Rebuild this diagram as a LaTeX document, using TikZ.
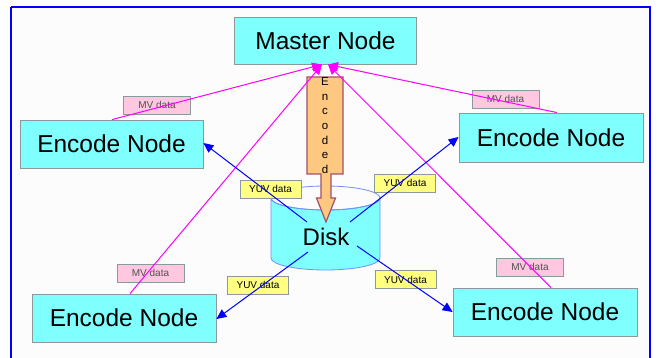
\documentclass[tikz,border=0pt]{standalone}
\usepackage{fontspec}
\setmainfont{Liberation Sans}
\usetikzlibrary{arrows.meta}
\definecolor{cyanfill}{HTML}{80FFFF}
\definecolor{boxline}{HTML}{8A9A9A}
\definecolor{orangefill}{HTML}{FFC880}
\definecolor{orangeline}{HTML}{A0506A}
\definecolor{yuvfill}{HTML}{FFFF80}
\definecolor{mvfill}{HTML}{FFC8E0}
\definecolor{mvtext}{HTML}{505050}
\definecolor{diskline}{HTML}{7090FF}
\begin{document}
\begin{tikzpicture}[x=1pt,y=-1pt,
  nodebox/.style={draw=boxline,fill=cyanfill,line width=0.8pt,inner sep=0pt,font=\fontsize{24.5}{26}\selectfont},
  yuvlabel/.style={draw=boxline,fill=yuvfill,line width=0.6pt,inner sep=0pt,minimum width=61pt,minimum height=18pt,font=\fontsize{10}{11}\selectfont},
  mvlabel/.style={draw=boxline,fill=mvfill,line width=0.6pt,inner sep=0pt,minimum width=67pt,minimum height=18pt,text=mvtext,font=\fontsize{10}{11}\selectfont},
  mvline/.style={draw={rgb,255:red,255;green,0;blue,255},line width=1pt,-{Triangle[length=10pt,width=9pt]}},
  yuvline/.style={draw=blue,line width=1pt,-{Triangle[length=10pt,width=9pt]}}]
\useasboundingbox (0,0) rectangle (658,358);
\fill[white] (0,0) rectangle (658,358);
\fill[black!1] (11,7) rectangle (650,362);
\draw[blue,line width=2.5pt] (11,7) -- (650,7) -- (650,362) (11,7) -- (11,362);

% nodes
\node[nodebox,minimum width=182pt,minimum height=47pt] (master) at (325.5,41) {Master Node};
\node[nodebox,minimum width=183pt,minimum height=48pt] (tl) at (111.5,144) {Encode Node};
\node[nodebox,minimum width=184pt,minimum height=49pt] (tr) at (551,137.5) {Encode Node};
\node[nodebox,minimum width=184pt,minimum height=48pt] (bl) at (124,318) {Encode Node};
\node[nodebox,minimum width=184pt,minimum height=48pt] (br) at (545,312) {Encode Node};

% disk cylinder
\path[fill=cyanfill,draw=diskline,line width=0.8pt]
  (271,198) -- (271,258) arc[start angle=180,end angle=360,x radius=54.5pt,y radius=12pt] -- (380,198)
  arc[start angle=0,end angle=180,x radius=54.5pt,y radius=-12pt] -- cycle;
\draw[diskline,line width=0.8pt] (325.5,198) ellipse[x radius=54.5pt,y radius=12pt];
\node[font=\fontsize{24}{26}\selectfont,inner sep=1pt] (disk) at (326,237) {Disk};

% encoded arrow
\path[fill=orangefill,draw=orangeline,line width=1.2pt,line join=miter]
  (307,77) -- (343,77) -- (343,174) -- (331,174) -- (331,198) -- (335.5,198) -- (326,222)
  -- (316.5,198) -- (321,198) -- (321,174) -- (307,174) -- cycle;
\node[font=\fontsize{11.5}{14.6}\selectfont,align=center,inner sep=0pt,anchor=north] (enc) at (325,77.5)
  {E\\n\\c\\o\\d\\e\\d};

% labels
\node[mvlabel] (mv1) at (157,105) {MV data};
\node[mvlabel] (mv2) at (505.5,99) {MV data};
\node[mvlabel] (mv3) at (150.5,273) {MV data};
\node[mvlabel] (mv4) at (530,267) {MV data};
\node[yuvlabel] (y1) at (270.5,189) {YUV data};
\node[yuvlabel] (y2) at (405,183) {YUV data};
\node[yuvlabel] (y3) at (258,285) {YUV data};
\node[yuvlabel] (y4) at (405.5,279.5) {YUV data};

% connector points
\coordinate (mL) at (322,64.5);
\coordinate (mR) at (328,64.5);
\coordinate (dtl) at (307,222);
\coordinate (dtr) at (350,222);
\coordinate (dbl) at (308,252);
\coordinate (dbr) at (357,246);

% magenta lines
\draw[mvline] (tl.north) ++(0.5,0) -- (mL);
\draw[mvline] ([xshift=6pt]bl.north) -- (mL);
\draw[mvline] ([xshift=6pt]tr.north) -- (mR);
\draw[mvline] ([xshift=6pt]br.north) -- (mR);

% blue arrows
\draw[yuvline] (dtl) -- ([yshift=1pt]tl.east);
\draw[yuvline] (dtr) -- ([yshift=0.5pt]tr.west);
\draw[yuvline] (dbl) -- ([yshift=-1pt]bl.east);
\draw[yuvline] (dbr) -- (br.west);
\end{tikzpicture}
\end{document}
